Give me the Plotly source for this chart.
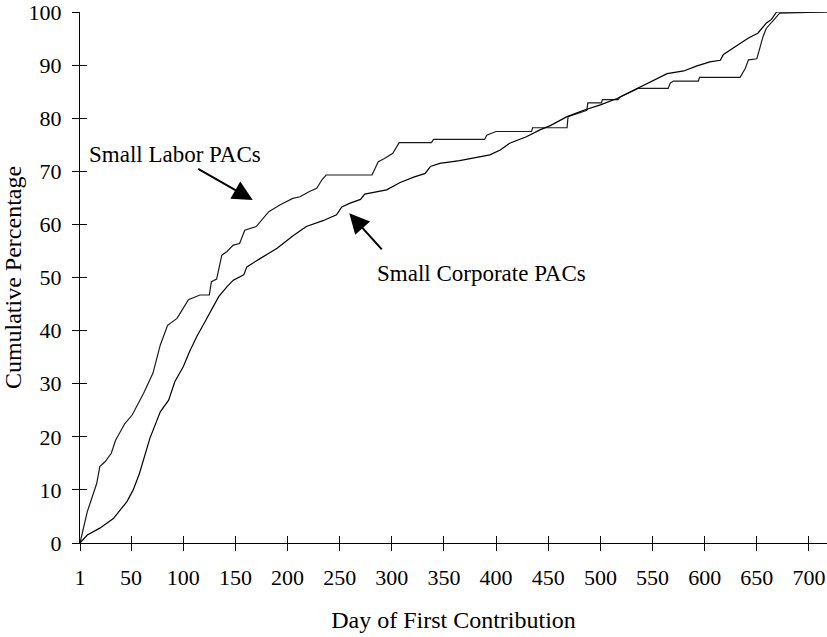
import plotly.graph_objects as go

# ---- data ----
labor_days = [1, 8, 17, 20, 25, 31, 35, 44, 51, 62, 71, 78, 85, 94, 99, 105, 116, 125, 127, 132,
              137, 142, 148, 154, 159, 170, 182, 193, 205, 212, 221, 228, 233, 237, 281, 287, 293,
              301, 307, 338, 340, 389, 391, 400, 434, 435, 468, 469, 487, 488, 501, 502, 517, 519,
              536, 565, 567, 570, 594, 595, 634, 639, 642, 650, 653, 656, 659, 664, 669, 672, 718]
labor_pct = [0, 5.9, 11.2, 14.4, 15.3, 16.9, 19.3, 22.5, 24.1, 28.2, 32, 37.3, 41, 42.3, 43.9, 45.8,
             46.7, 46.7, 49.2, 49.7, 54.2, 54.9, 56.1, 56.4, 58.9, 59.6, 62.4, 63.7, 64.9, 65.2, 66.2,
             66.8, 68.4, 69.3, 69.3, 71.8, 72.4, 73.4, 75.4, 75.4, 76, 76, 76.8, 77.5, 77.5, 78.2,
             78.2, 80.3, 81.5, 82.9, 82.9, 83.5, 83.5, 84, 85.6, 85.6, 86.6, 87, 87, 87.7, 87.7, 89.4,
             91, 91.2, 93.3, 95.4, 96.9, 98.1, 99.2, 99.8, 100]

corp_days = [1, 8, 20, 33, 46, 52, 58, 63, 68, 78, 86, 92, 100, 106, 113, 119, 129, 134, 142, 148,
             158, 161, 174, 190, 205, 218, 234, 247, 252, 260, 270, 274, 295, 308, 321, 332, 337,
             346, 365, 381, 394, 404, 413, 429, 442, 452, 468, 484, 500, 516, 535, 548, 564, 580,
             592, 605, 615, 618, 624, 634, 642, 651, 654, 659, 664, 669, 675, 718]
corp_pct = [0, 1.5, 2.8, 4.6, 7.8, 10, 13.1, 16.3, 19.7, 24.7, 26.9, 30.4, 33.2, 36, 38.9, 41, 44.5,
            46.4, 48.3, 49.5, 50.5, 52, 53.6, 55.5, 57.8, 59.6, 60.7, 61.8, 63.3, 64, 64.7, 65.7, 66.5,
            67.9, 68.9, 69.6, 70.9, 71.5, 72, 72.6, 73.1, 74, 75.3, 76.5, 77.8, 78.6, 80.3, 81.5, 82.5,
            83.7, 85.6, 86.9, 88.4, 88.9, 89.8, 90.6, 90.9, 92, 92.8, 94, 95.1, 96, 96.8, 97.9, 98.6,
            100, 100, 100]

x_ticks = [1, 50, 100, 150, 200, 250, 300, 350, 400, 450, 500, 550, 600, 650, 700]
y_ticks = [0, 10, 20, 30, 40, 50, 60, 70, 80, 90, 100]

FONT = "Liberation Serif"
X_RANGE = [1, 717.3]
Y_RANGE = [0, 100]

fig = go.Figure()
fig.add_trace(go.Scatter(x=labor_days, y=labor_pct, mode="lines", name="Small Labor PACs",
                         line=dict(color="#1a1a1a", width=1.2), showlegend=False, hoverinfo="skip"))
fig.add_trace(go.Scatter(x=corp_days, y=corp_pct, mode="lines", name="Small Corporate PACs",
                         line=dict(color="#000000", width=1.2), showlegend=False, hoverinfo="skip"))
# invisible trace to activate the overlay axes (for crossing tick marks)
fig.add_trace(go.Scatter(x=[None], y=[None], xaxis="x2", yaxis="y2", showlegend=False,
                         hoverinfo="skip"))

tick_common = dict(showgrid=False, zeroline=False, tickcolor="black", tickwidth=1, ticklen=7)

fig.update_layout(
    width=827, height=637,
    margin=dict(l=80, r=0, t=12, b=94),
    plot_bgcolor="white", paper_bgcolor="white",
    font=dict(family=FONT, size=22, color="black"),
    xaxis=dict(range=X_RANGE, tickvals=x_ticks, ticktext=[str(v) for v in x_ticks],
               ticks="outside", showline=True, linecolor="black", linewidth=1,
               ticklabelstandoff=8, ticklabeloverflow="allow",
               tickfont=dict(family=FONT, size=22),
               title=dict(text="Day of First Contribution", font=dict(family=FONT, size=24),
                          standoff=21),
               **tick_common),
    yaxis=dict(range=Y_RANGE, tickvals=y_ticks, ticks="outside", showline=True,
               linecolor="black", linewidth=1, ticklabelstandoff=6, ticklabeloverflow="allow",
               tickfont=dict(family=FONT, size=22),
               title=dict(text="Cumulative Percentage", font=dict(family=FONT, size=24),
                          standoff=8),
               **tick_common),
    xaxis2=dict(range=X_RANGE, overlaying="x", tickvals=x_ticks, ticks="inside",
                showticklabels=False, showline=False, **tick_common),
    yaxis2=dict(range=Y_RANGE, overlaying="y", tickvals=y_ticks, ticks="inside",
                showticklabels=False, showline=False, **tick_common),
    showlegend=False,
)

# labels and arrows
fig.add_annotation(x=92, y=73.1, text="Small Labor PACs", showarrow=False,
                   font=dict(size=23, family=FONT))
fig.add_annotation(x=166.6, y=64.6, ax=112.9, ay=70.6, axref="x", ayref="y", text="",
                   showarrow=True, arrowhead=2, arrowsize=2, arrowwidth=2, arrowcolor="black",
                   standoff=0)
fig.add_annotation(x=386, y=50.7, text="Small Corporate PACs", showarrow=False,
                   font=dict(size=23, family=FONT))
fig.add_annotation(x=259.2, y=62.1, ax=291.7, ay=55.0, axref="x", ayref="y", text="",
                   showarrow=True, arrowhead=2, arrowsize=2, arrowwidth=2, arrowcolor="black",
                   standoff=0)

fig.write_html("out.html", config={"displayModeBar": False},
               post_script="document.body.style.margin='0';document.body.style.overflow='hidden';")
